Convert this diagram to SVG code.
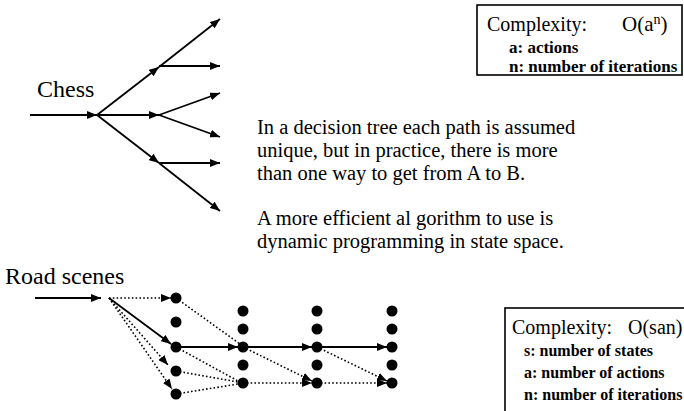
<svg xmlns="http://www.w3.org/2000/svg" width="684" height="411" viewBox="0 0 684 411">
<style>
text{font-family:"Liberation Serif","Times New Roman",serif;fill:#000}
.label{font-size:24px}
.cx{font-size:20px}
.para{font-size:20.5px}
.small{font-size:16px;font-weight:bold}
.s{stroke:#000;stroke-width:1.8;fill:none}
.d{stroke:#000;stroke-width:1.6;fill:none;stroke-dasharray:1.6 2.2}
.dot{fill:#000}
.box{fill:#fff;stroke:#000;stroke-width:1.6}
</style>
<defs>
<marker id="ah" viewBox="0 0 10 8" refX="10" refY="4" markerWidth="10" markerHeight="8" markerUnits="userSpaceOnUse" orient="auto">
<path d="M0,0 L10,4 L0,8 Z" fill="#000"/>
</marker>
</defs>
<g id="box-chess">
<rect class="box" x="477" y="5" width="205" height="70"/>
<text class="cx" x="487" y="31">Complexity:<tspan x="622" font-size="21">O(a</tspan><tspan font-size="14" dy="-7">n</tspan><tspan font-size="21" dy="7">)</tspan></text>
<text class="small" x="509" y="53" style="font-size:17px">a: actions</text>
<text class="small" x="509" y="72" style="font-size:17px">n: number of iterations</text>
</g>
<g id="label-chess"><text class="label" x="37" y="97">Chess</text></g>
<g id="label-road"><text class="label" x="5" y="284">Road scenes</text></g>
<g id="paragraph">
<text class="para" x="257" y="134">In a decision tree each path is assumed</text>
<text class="para" x="257" y="157">unique, but in practice, there is more</text>
<text class="para" x="257" y="180">than one way to get from A  to B.</text>
<text class="para" x="257" y="225">A more efficient al gorithm to use is</text>
<text class="para" x="257" y="248">dynamic programming in state space.</text>
</g>
<g id="box-road">
<rect class="box" x="505" y="308" width="190" height="110"/>
<text class="cx" x="512" y="334">Complexity:<tspan x="628">O(san)</tspan></text>
<text class="small" x="524" y="356">s: number of states</text>
<text class="small" x="524" y="378">a: number of actions</text>
<text class="small" x="524" y="400">n: number of iterations</text>
</g>
<g id="connectors">
<!-- chess tree -->
<line class="s" x1="30" y1="115" x2="97" y2="115" marker-end="url(#ah)"/>
<line class="s" x1="97" y1="115" x2="159" y2="67" marker-end="url(#ah)"/>
<line class="s" x1="97" y1="115" x2="159" y2="115" marker-end="url(#ah)"/>
<line class="s" x1="97" y1="115" x2="159" y2="163" marker-end="url(#ah)"/>
<line class="s" x1="159" y1="67" x2="220" y2="19" marker-end="url(#ah)"/>
<line class="s" x1="159" y1="66" x2="220" y2="66" marker-end="url(#ah)"/>
<line class="s" x1="159" y1="115" x2="220" y2="93" marker-end="url(#ah)"/>
<line class="s" x1="159" y1="115" x2="220" y2="137" marker-end="url(#ah)"/>
<line class="s" x1="159" y1="163" x2="220" y2="163" marker-end="url(#ah)"/>
<line class="s" x1="159" y1="163" x2="220" y2="211" marker-end="url(#ah)"/>
<!-- road scenes -->
<line class="s" x1="35" y1="298" x2="101" y2="298" marker-end="url(#ah)"/>
<line class="d" x1="109" y1="298" x2="171" y2="298" marker-end="url(#ah)"/>
<line class="s" x1="109" y1="298" x2="171" y2="344" marker-end="url(#ah)"/>
<line class="d" x1="109" y1="298" x2="168" y2="365" marker-end="url(#ah)"/>
<line class="d" x1="109" y1="298" x2="172" y2="389" marker-end="url(#ah)"/>
<line class="d" x1="176" y1="298" x2="240" y2="344"/>
<line class="s" x1="176" y1="347" x2="238" y2="347" marker-end="url(#ah)"/>
<line class="d" x1="176" y1="347" x2="238" y2="381"/>
<line class="d" x1="176" y1="371" x2="238" y2="382"/>
<line class="d" x1="176" y1="394" x2="238" y2="384"/>
<line class="s" x1="243" y1="347" x2="312" y2="347" marker-end="url(#ah)"/>
<line class="d" x1="243" y1="347" x2="312" y2="381" marker-end="url(#ah)"/>
<line class="d" x1="243" y1="383" x2="312" y2="383" marker-end="url(#ah)"/>
<line class="s" x1="317" y1="347" x2="387" y2="347" marker-end="url(#ah)"/>
<line class="d" x1="317" y1="347" x2="387" y2="381" marker-end="url(#ah)"/>
<line class="d" x1="317" y1="383" x2="387" y2="383" marker-end="url(#ah)"/>
</g>
<g id="nodes-road">
<circle class="dot" cx="176" cy="298" r="5.5"/>
<circle class="dot" cx="176" cy="322" r="5.5"/>
<circle class="dot" cx="176" cy="347" r="5.5"/>
<circle class="dot" cx="176" cy="371" r="5.5"/>
<circle class="dot" cx="176" cy="394" r="5.5"/>
<circle class="dot" cx="243" cy="311" r="5.5"/>
<circle class="dot" cx="243" cy="329" r="5.5"/>
<circle class="dot" cx="243" cy="347" r="5.5"/>
<circle class="dot" cx="243" cy="365" r="5.5"/>
<circle class="dot" cx="243" cy="383" r="5.5"/>
<circle class="dot" cx="317" cy="311" r="5.5"/>
<circle class="dot" cx="317" cy="329" r="5.5"/>
<circle class="dot" cx="317" cy="347" r="5.5"/>
<circle class="dot" cx="317" cy="365" r="5.5"/>
<circle class="dot" cx="317" cy="383" r="5.5"/>
<circle class="dot" cx="392" cy="311" r="5.5"/>
<circle class="dot" cx="392" cy="329" r="5.5"/>
<circle class="dot" cx="392" cy="347" r="5.5"/>
<circle class="dot" cx="392" cy="365" r="5.5"/>
<circle class="dot" cx="392" cy="383" r="5.5"/>
</g>
</svg>
